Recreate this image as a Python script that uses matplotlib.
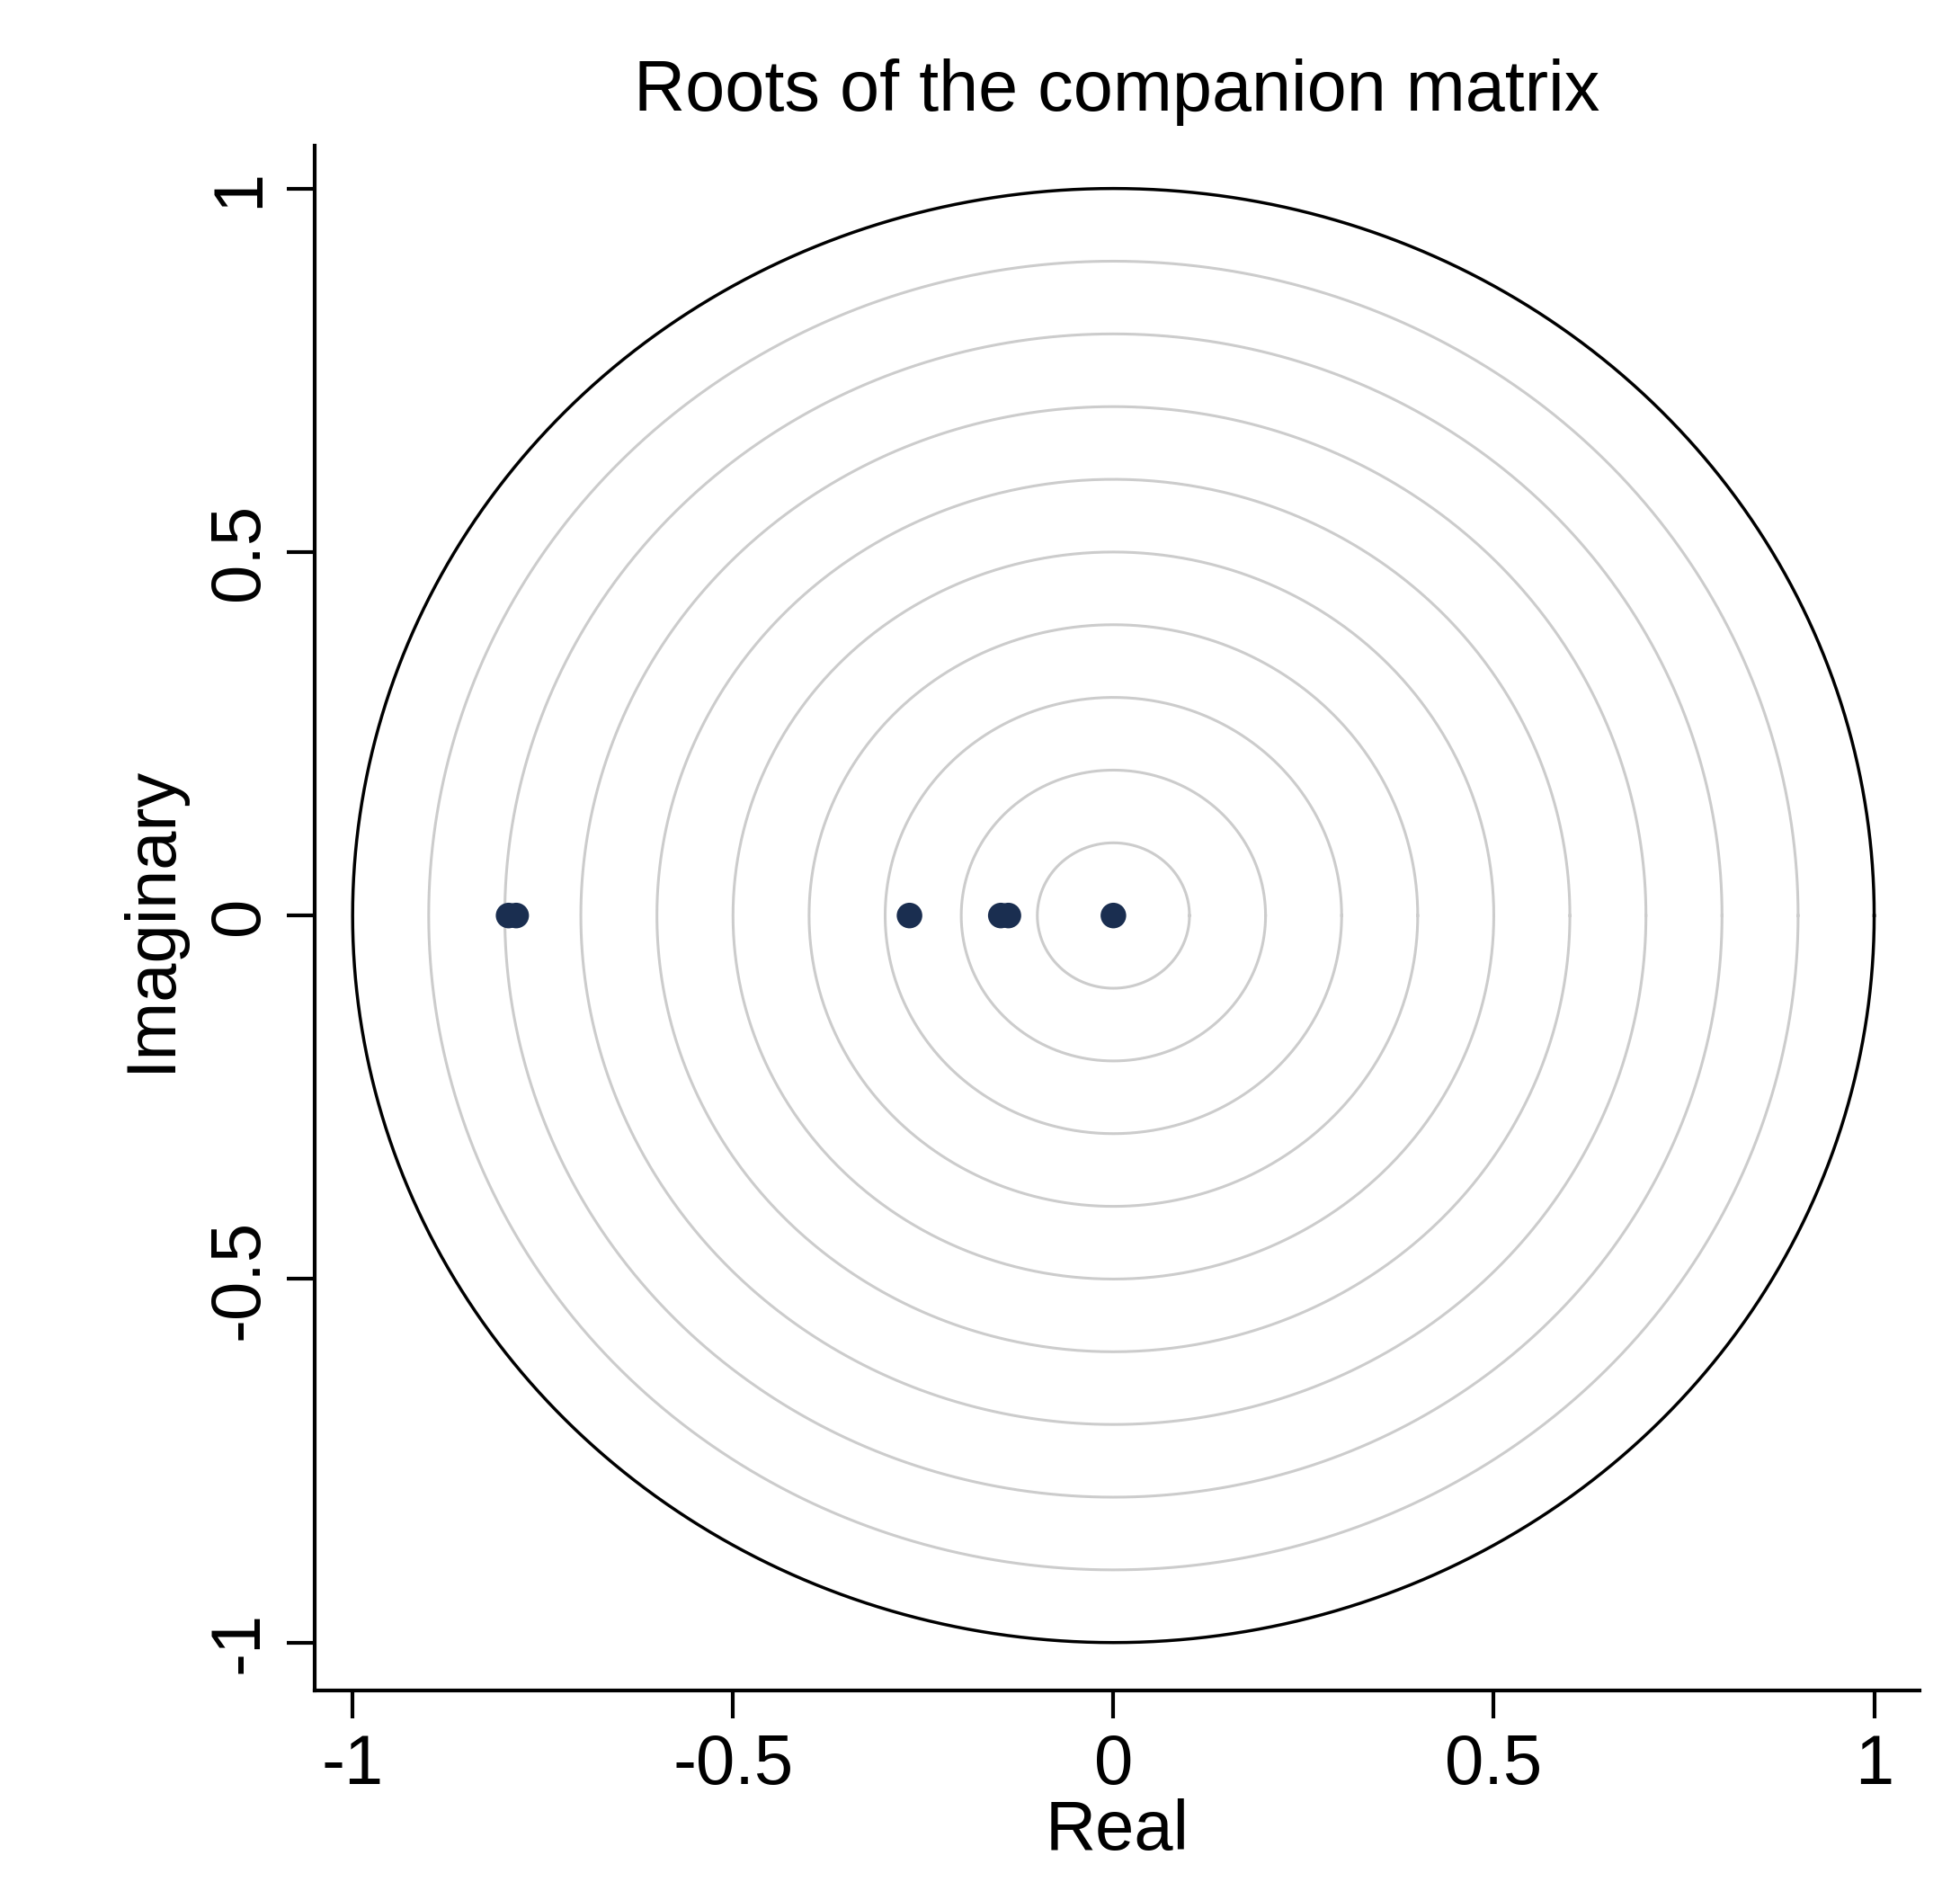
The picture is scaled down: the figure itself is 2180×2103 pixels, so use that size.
import numpy as np
import matplotlib
matplotlib.use("Agg")
import matplotlib.pyplot as plt

plt.rcParams['font.family'] = ['Liberation Sans', 'DejaVu Sans']

real = [-0.795, -0.785, -0.268, -0.148, -0.138, 0.0]
imag = [0.0, 0.0, 0.0, 0.0, 0.0, 0.0]
grid_radii = [0.1, 0.2, 0.3, 0.4, 0.5, 0.6, 0.7, 0.8, 0.9]
ticks = [-1, -0.5, 0, 0.5, 1]
tick_labels = ["-1", "-0.5", "0", "0.5", "1"]

fig = plt.figure(figsize=(21.8, 21.03), dpi=100)
ax = fig.add_axes([0.1605, 0.106, 0.819, 0.817])
t = np.linspace(0, 2 * np.pi, 721)
for r in grid_radii:
    ax.plot(r * np.cos(t), r * np.sin(t), color='#cccccc', lw=2.2, zorder=1)
ax.plot(np.cos(t), np.sin(t), color='black', lw=2.5, zorder=2)
ax.scatter(real, imag, s=420, color='#1a2e50', zorder=3, edgecolors='none')

ax.set_xlim(-1.05, 1.06)
ax.set_ylim(-1.066, 1.059)
ax.spines['top'].set_visible(False)
ax.spines['right'].set_visible(False)
for s in ['left', 'bottom']:
    ax.spines[s].set_linewidth(3)
ax.set_xticks(ticks)
ax.set_xticklabels(tick_labels)
ax.set_yticks(ticks)
ax.set_yticklabels(tick_labels, rotation=90, va='center')
ax.tick_params(direction='out', length=22, width=3, labelsize=56, pad=12)
ax.set_xlabel("Real", fontsize=56, labelpad=0)
ax.set_ylabel("Imaginary", fontsize=56, labelpad=18)
ax.set_title("Roots of the companion matrix", fontsize=57, pad=28)
fig.savefig("out.png", dpi=100, facecolor='white')
